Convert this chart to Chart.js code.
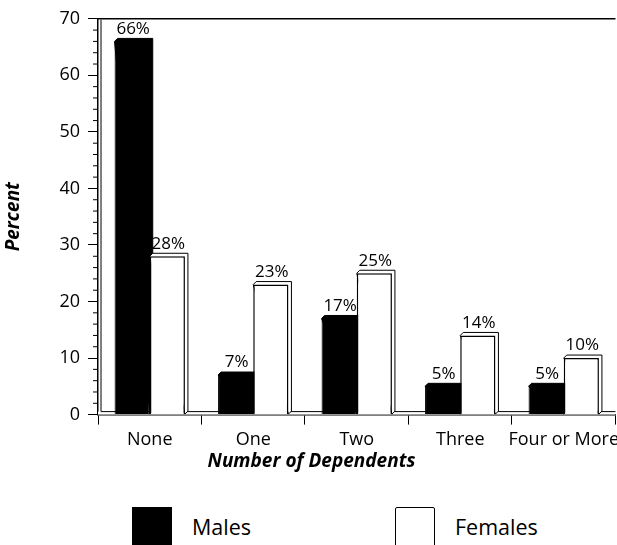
<!DOCTYPE html>
<html>
<head>
<meta charset="utf-8">
<script src="https://cdn.jsdelivr.net/npm/chart.js@4.4.1/dist/chart.umd.min.js"></script>
<style>
    html, body { margin: 0; padding: 0; background: #fff; overflow: hidden; }
    #contenedor { position: relative; width: 617px; height: 545px; overflow: hidden; }
    #grafico { position: absolute; left: 0; top: 0; }
    .leyenda { position: absolute; font-family: "Open Sans", sans-serif; font-size: 21.5px; color: #000; }
    .caja { position: absolute; top: 507px; width: 40px; height: 40px; box-sizing: border-box; }
</style>
</head>
<body>
<div id="contenedor">
    <canvas id="grafico" width="623" height="481"></canvas>
    <div class="caja" style="left:132px; background:#000;"></div>
    <div class="leyenda" style="left:192px; top:512px;">Males</div>
    <div class="caja" style="left:395px; background:#fff; border:1.5px solid #000; border-radius:2px;"></div>
    <div class="leyenda" style="left:455px; top:512px;">Females</div>
</div>
<script>
// Datos
const categorias = ["None", "One", "Two", "Three", "Four or More"];
const hombres = [66, 7, 17, 5, 5];
const mujeres = [28, 23, 25, 14, 10];
const ticksY = [0, 10, 20, 30, 40, 50, 60, 70];

const fuente = "'Open Sans', sans-serif";
const prof = 3; // profundidad del efecto 3D

// Suelo, pared y caras laterales de las barras
const efecto3D = {
    id: "efecto3D",
    beforeDatasetsDraw(chart) {
        const { ctx, chartArea: a } = chart;
        ctx.save();
        ctx.strokeStyle = "#000";
        ctx.lineWidth = 1;
        // suelo
        ctx.fillStyle = "#fff";
        ctx.fillRect(a.left, a.bottom - prof, a.right - a.left, prof);
        ctx.beginPath();
        ctx.moveTo(a.left + prof, a.bottom - prof);
        ctx.lineTo(a.right, a.bottom - prof);
        ctx.stroke();
        // pared
        ctx.beginPath();
        ctx.moveTo(a.left + prof, a.top + 1);
        ctx.lineTo(a.left + prof, a.bottom - prof);
        ctx.stroke();
        // caras de las barras
        chart.data.datasets.forEach((ds, i) => {
            const meta = chart.getDatasetMeta(i);
            meta.data.forEach(el => {
                const x1 = el.x - el.width / 2, x2 = el.x + el.width / 2;
                ctx.fillStyle = ds.backgroundColor;
                ctx.beginPath();
                ctx.moveTo(x1, el.y);
                ctx.lineTo(x1 + prof, el.y - prof);
                ctx.lineTo(x2 + prof, el.y - prof);
                ctx.lineTo(x2 + prof, el.base - prof);
                ctx.lineTo(x2, el.base);
                ctx.closePath();
                ctx.fill();
                ctx.stroke();
            });
        });
        ctx.restore();
    },
    afterDraw(chart) {
        const { ctx, chartArea: a } = chart;
        const y = chart.scales.y;
        ctx.save();
        ctx.strokeStyle = "#000";
        ctx.lineWidth = 1.5;
        // borde superior
        ctx.beginPath();
        ctx.moveTo(a.left, a.top);
        ctx.lineTo(a.right, a.top);
        ctx.stroke();
        // marcas menores del eje Y
        ctx.lineWidth = 1;
        for (let v = 0; v <= 70; v += 2) {
            if (v % 10 === 0) continue;
            const py = y.getPixelForValue(v);
            ctx.beginPath();
            ctx.moveTo(a.left - 5, py);
            ctx.lineTo(a.left, py);
            ctx.stroke();
        }
        ctx.restore();
    }
};

// Etiquetas de porcentaje encima de las barras
const etiquetas = {
    id: "etiquetas",
    afterDatasetsDraw(chart) {
        const { ctx } = chart;
        ctx.save();
        ctx.fillStyle = "#000";
        ctx.font = "17px " + fuente;
        ctx.textAlign = "center";
        ctx.textBaseline = "bottom";
        chart.data.datasets.forEach((ds, i) => {
            chart.getDatasetMeta(i).data.forEach((el, j) => {
                ctx.fillText(ds.data[j] + "%", el.x + 1, el.y - prof - 1);
            });
        });
        ctx.restore();
    }
};

new Chart(document.getElementById("grafico"), {
    type: "bar",
    data: {
        labels: categorias,
        datasets: [
            { label: "Males", data: hombres, backgroundColor: "#000", borderColor: "#000", borderWidth: 1 },
            { label: "Females", data: mujeres, backgroundColor: "#fff", borderColor: "#000", borderWidth: 1.5 }
        ]
    },
    options: {
        responsive: false,
        animation: false,
        layout: { padding: { top: 17, left: 0, right: 0, bottom: 8 } },
        datasets: { bar: { categoryPercentage: 0.68, barPercentage: 1.0 } },
        plugins: {
            legend: { display: false },
            tooltip: { enabled: false },
            title: {
                display: true,
                position: "bottom",
                text: "Number of Dependents",
                color: "#000",
                font: { family: fuente, size: 19, weight: "bold", style: "italic" },
                padding: { top: -4, bottom: 0 }
            }
        },
        scales: {
            x: {
                grid: { offset: true, drawOnChartArea: false, tickLength: 10, color: "#000", lineWidth: 1 },
                border: { color: "#000", width: 1.5 },
                ticks: { color: "#000", padding: 4, font: { family: fuente, size: 18 }, maxRotation: 0, autoSkip: false }
            },
            y: {
                min: 0,
                max: 70,
                afterBuildTicks(scale) { scale.ticks = ticksY.map(v => ({ value: v })); },
                afterFit(scale) { scale.width = 98; },
                grid: { drawOnChartArea: false, tickLength: 10, color: "#000", lineWidth: 1 },
                border: { color: "#000", width: 1.5 },
                ticks: { color: "#000", padding: 8, font: { family: fuente, size: 18 } },
                title: {
                    display: true,
                    text: "Percent",
                    color: "#000",
                    font: { family: fuente, size: 19, weight: "bold", style: "italic" },
                    padding: { top: 2, bottom: 0 }
                }
            }
        }
    },
    plugins: [efecto3D, etiquetas]
});
</script>
</body>
</html>
